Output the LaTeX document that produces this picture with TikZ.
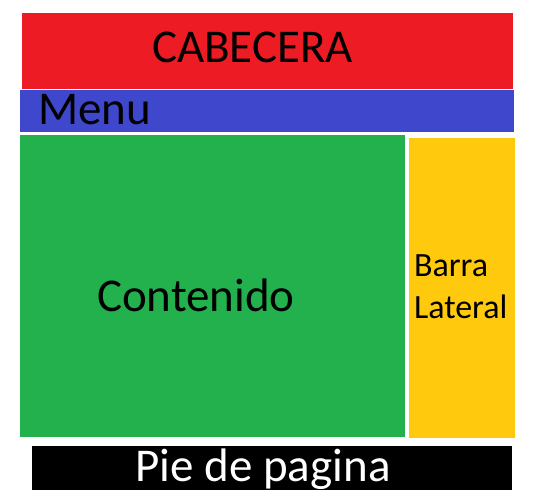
\documentclass[tikz,border=0pt]{standalone}
\usepackage{fontspec}
\setmainfont{Carlito}
\usepackage{xcolor}
\usepackage{tikz}
\usetikzlibrary{positioning}

\definecolor{rojo}{HTML}{ED1C24}
\definecolor{azul}{HTML}{3F48CC}
\definecolor{verde}{HTML}{22B14C}
\definecolor{amarillo}{HTML}{FFC90E}

\begin{document}
\begin{tikzpicture}[x=1pt,y=-1pt,
  texto/.style={inner sep=0pt, outer sep=0pt, anchor=base west, font=\fontsize{47}{56}\selectfont},
  textochico/.style={inner sep=0pt, outer sep=0pt, anchor=base west, font=\fontsize{34}{42}\selectfont}]
  \useasboundingbox (0,0) rectangle (546,502);
  % Cabecera
  \fill[rojo] (22,13) rectangle (513,88.7);
  \node[texto] (cabecera) at (152,63) {CABECERA};

  % Menu
  \fill[azul] (20,90) rectangle (514,131.7);
  \node[texto] (menu) at (38,124.7) {Menu};

  % Contenido
  \fill[verde] (20,135) rectangle (405,436.7);
  \node[texto] (contenido) at (97,311.7) {Contenido};

  % Barra lateral
  \fill[amarillo] (409,138) rectangle (515,437.7);
  \node[textochico] (barra) at (414,276.7) {Barra};
  \node[textochico] (lateral) at (414,318.3) {Lateral};

  % Pie de pagina
  \fill[black] (32,446) rectangle (512,490);
  \node[texto, text=white] (pie) at (135.5,481.7) {Pie de pagina};
\end{tikzpicture}
\end{document}
